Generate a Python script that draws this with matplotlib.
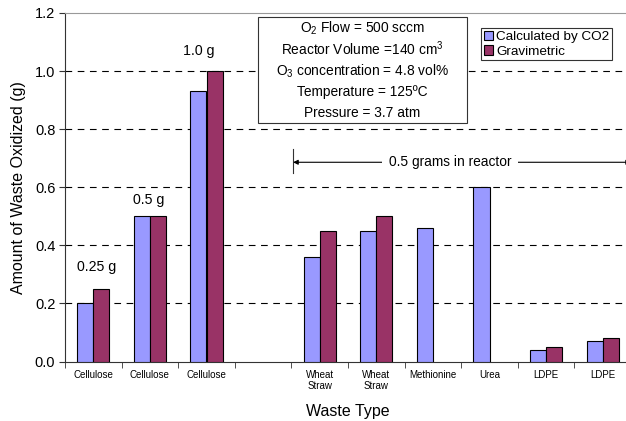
import matplotlib
matplotlib.use("Agg")
import matplotlib.pyplot as plt
from matplotlib.patches import Rectangle
import numpy as np

plt.rcParams['font.family'] = ['Liberation Sans', 'DejaVu Sans']
plt.rcParams['mathtext.fontset'] = 'custom'
plt.rcParams['mathtext.rm'] = 'Liberation Sans'
plt.rcParams['mathtext.it'] = 'Liberation Sans'

categories = ["Cellulose", "Cellulose", "Cellulose", "", "Wheat\nStraw", "Wheat\nStraw",
              "Methionine", "Urea", "LDPE", "LDPE"]
calc_co2 = [0.20, 0.50, 0.93, np.nan, 0.36, 0.45, 0.46, 0.60, 0.04, 0.07]
gravimetric = [0.25, 0.50, 1.00, np.nan, 0.45, 0.50, np.nan, np.nan, 0.05, 0.08]
mass_labels = ["0.25 g", "0.5 g", "1.0 g"]
mass_label_x = [0.06, 0.97, 1.87]
mass_label_y = [0.326, 0.557, 1.07]
yticks = [0.0, 0.2, 0.4, 0.6, 0.8, 1.0, 1.2]
info_lines = ["O$_2$ Flow = 500 sccm", "Reactor Volume =140 cm$^3$",
              "O$_3$ concentration = 4.8 vol%", "Temperature = 125ºC", "Pressure = 3.7 atm"]

W, H = 626, 421
fig = plt.figure(figsize=(W/100, H/100), dpi=100)
ax = fig.add_axes([65/W, 1-361.5/H, (631-65)/W, (361.5-13)/H])

x = np.arange(len(categories))
bw = 0.285
blue = '#9999FF'
red = '#993366'
ax.bar(x - bw/2, calc_co2, bw, color=blue, edgecolor='black', linewidth=0.8, zorder=3,
       label='Calculated by CO2')
ax.bar(x + bw/2, gravimetric, bw, color=red, edgecolor='black', linewidth=0.8, zorder=3,
       label='Gravimetric')

ax.set_xlim(-0.5, len(categories) - 0.5)
ax.set_ylim(0, 1.2)
ax.set_yticks(yticks)
ax.set_yticklabels([f"{v:.1f}" for v in yticks], fontsize=10.5)
for v in yticks[1:-1]:
    ax.axhline(v, color='black', linestyle=(0, (6, 5)), linewidth=0.8, zorder=1)

ax.set_xticks(x)
ax.set_xticklabels(categories, fontsize=7)
ax.set_xticks(np.arange(len(categories) + 1) - 0.5, minor=True)
ax.tick_params(axis='x', which='major', length=0, pad=6)
ax.tick_params(axis='x', which='minor', length=4, direction='out', color='#333333')
ax.tick_params(axis='y', length=4, direction='out', color='#333333', pad=3)

ax.spines['right'].set_visible(False)
ax.spines['top'].set_color('#999999')
ax.spines['left'].set_color('#333333')
ax.spines['bottom'].set_color('#333333')

ax.set_ylabel("Amount of Waste Oxidized (g)", fontsize=11.5, labelpad=6)
ax.set_xlabel("Waste Type", fontsize=11.5, labelpad=9)

for t, tx, ty in zip(mass_labels, mass_label_x, mass_label_y):
    ax.text(tx, ty, t, ha='center', va='center', fontsize=10.2, zorder=5)

# info box
bx0, bx1, by0, by1 = 2.91, 6.60, 0.82, 1.187
ax.add_patch(Rectangle((bx0, by0), bx1 - bx0, by1 - by0, facecolor='white',
                       edgecolor='#333333', linewidth=0.8, zorder=4))
line_y = [1.149, 1.076, 1.0, 0.927, 0.855]
for s, ly in zip(info_lines, line_y):
    ax.text((bx0 + bx1)/2, ly, s, ha='center', va='center', fontsize=9.9, zorder=5)

# arrow
ay = 0.686
ax.plot([3.52, 3.52], [0.65, 0.73], color='#333333', linewidth=0.8, zorder=4, clip_on=False)
ax.annotate("", xy=(1.0, ay), xycoords=('axes fraction', 'data'), xytext=(3.53, ay),
            textcoords='data',
            arrowprops=dict(arrowstyle='<|-|>', color='black', lw=0.8, mutation_scale=7,
                            shrinkA=0, shrinkB=0),
            annotation_clip=False, zorder=4)
ax.text(6.3, ay, "0.5 grams in reactor", ha='center', va='center', fontsize=9.9, zorder=5,
        bbox=dict(facecolor='white', edgecolor='none', pad=5))

leg = fig.legend(loc='upper left', bbox_to_anchor=(481/W, 1 - 28/H), fontsize=9.7,
                 frameon=True, fancybox=False, handlelength=0.7, handleheight=0.7,
                 handletextpad=0.25, borderpad=0.2, labelspacing=0.15, borderaxespad=0)
leg.get_frame().set_edgecolor('black')
leg.get_frame().set_linewidth(0.8)

fig.savefig("out.png", dpi=100)
